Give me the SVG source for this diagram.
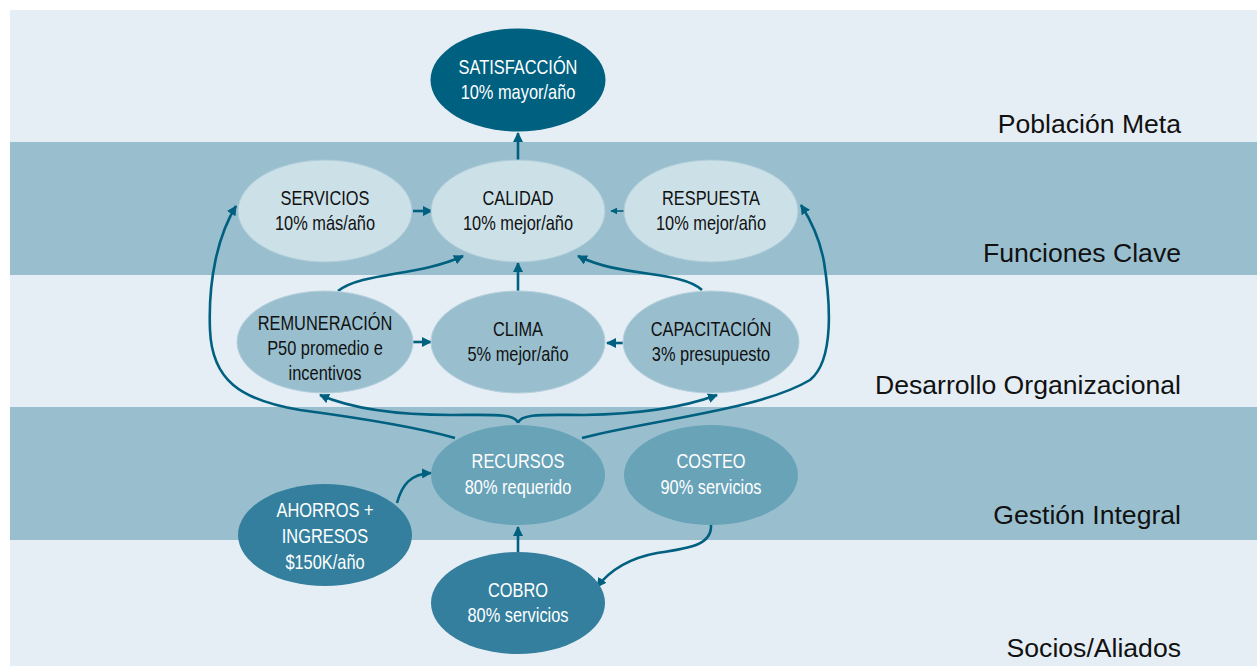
<svg xmlns="http://www.w3.org/2000/svg" width="1257" height="666" viewBox="0 0 1257 666">
<style>
.band-l{fill:#E6EEF5}
.band-m{fill:#99BFCF}
.lbl{font-family:"Liberation Sans",Arial,sans-serif;font-size:26.6px;fill:#111;text-anchor:end}
.nt{font-family:"Liberation Sans",Arial,sans-serif;font-size:20px;text-anchor:middle}
.dk{fill:#fff}
.bk{fill:#111}
.c{fill:none;stroke:#00607F;stroke-width:2.6}
.ct{fill:none;stroke:#00607F;stroke-width:1.6}
</style>
<defs>
<marker id="ah" viewBox="0 0 10 10" refX="9" refY="5" markerWidth="10" markerHeight="10" markerUnits="userSpaceOnUse" orient="auto">
<path d="M0,0 L10,5 L0,10 Z" fill="#00607F"/>
</marker>
<marker id="ahs" viewBox="0 0 10 10" refX="9" refY="5" markerWidth="7" markerHeight="7" markerUnits="userSpaceOnUse" orient="auto">
<path d="M0,0 L10,5 L0,10 Z" fill="#00607F"/>
</marker>
</defs>
<rect x="0" y="0" width="1257" height="666" fill="#fff"/>
<g id="bands">
<rect class="band-l" x="10" y="10" width="1247" height="132"/>
<rect class="band-m" x="10" y="142" width="1247" height="133"/>
<rect class="band-l" x="10" y="275" width="1247" height="132"/>
<rect class="band-m" x="10" y="407" width="1247" height="133"/>
<rect class="band-l" x="10" y="540" width="1247" height="126"/>
<text class="lbl" x="1181" y="133">Población Meta</text>
<text class="lbl" x="1181" y="262">Funciones Clave</text>
<text class="lbl" x="1181" y="394">Desarrollo Organizacional</text>
<text class="lbl" x="1181" y="524">Gestión Integral</text>
<text class="lbl" x="1181" y="657">Socios/Aliados</text>
</g>
<g id="connectors">
<path class="c" d="M518,160 L518,133" marker-end="url(#ah)"/>
<path class="c" d="M413,211 L432,211" marker-end="url(#ah)"/>
<path class="ct" d="M624,211 L611,211" marker-end="url(#ahs)"/>
<path class="c" d="M338,291 C362,272 420,276 463,256" marker-end="url(#ah)"/>
<path class="c" d="M518,291 L518,263" marker-end="url(#ah)"/>
<path class="c" d="M702,290 C680,270 622,278 578,256" marker-end="url(#ah)"/>
<path class="c" d="M413,342 L431,342" marker-end="url(#ah)"/>
<path class="c" d="M623,343 L607,343" marker-end="url(#ah)"/>
<path class="c" d="M518,423 C515,413 492,415 452,415 C392,415 350,408 320,395" marker-end="url(#ah)"/>
<path class="c" d="M518,423 C521,413 544,415 584,415 C648,414 690,405 717,395" marker-end="url(#ah)"/>
<path class="c" d="M455,438 C420,428 360,418 300,410 C240,400 212,380 210,330 C208,280 218,235 236,206" marker-end="url(#ah)"/>
<path class="c" d="M582,438 C650,420 760,410 810,380 C835,360 830,300 824,262 C820,240 812,222 801,205" marker-end="url(#ah)"/>
<path class="c" d="M397,503 C402,485 410,474 431,473" marker-end="url(#ah)"/>
<path class="c" d="M518,552 L518,527" marker-end="url(#ah)"/>
<path class="c" d="M711,525 C712,545 690,548 657,553 C630,558 610,570 597,587" marker-end="url(#ah)"/>
</g>
<g id="satisfaccion">
<ellipse cx="518" cy="80" rx="87.5" ry="51.5" fill="#00607F"/>
<g transform="translate(518,0) scale(0.82,1)">
<text class="nt dk" x="0" y="74">SATISFACCIÓN</text>
<text class="nt dk" x="0" y="99">10% mayor/año</text>
</g>
</g>
<g id="servicios">
<ellipse cx="325" cy="211" rx="87" ry="51" fill="#CCE0E8" stroke="#AECBD8" stroke-width="1"/>
<g transform="translate(325,0) scale(0.82,1)">
<text class="nt bk" x="0" y="205">SERVICIOS</text>
<text class="nt bk" x="0" y="230">10% más/año</text>
</g>
</g>
<g id="calidad">
<ellipse cx="518" cy="211" rx="87" ry="51" fill="#CCE0E8" stroke="#AECBD8" stroke-width="1"/>
<g transform="translate(518,0) scale(0.82,1)">
<text class="nt bk" x="0" y="205">CALIDAD</text>
<text class="nt bk" x="0" y="230">10% mejor/año</text>
</g>
</g>
<g id="respuesta">
<ellipse cx="711" cy="211" rx="87" ry="51" fill="#CCE0E8" stroke="#AECBD8" stroke-width="1"/>
<g transform="translate(711,0) scale(0.82,1)">
<text class="nt bk" x="0" y="205">RESPUESTA</text>
<text class="nt bk" x="0" y="230">10% mejor/año</text>
</g>
</g>
<g id="remuneracion">
<ellipse cx="325" cy="342" rx="88" ry="51" fill="#99BFCF" stroke="#B5D0DC" stroke-width="1"/>
<g transform="translate(325,0) scale(0.82,1)">
<text class="nt bk" x="0" y="330">REMUNERACIÓN</text>
<text class="nt bk" x="0" y="355">P50 promedio e</text>
<text class="nt bk" x="0" y="380">incentivos</text>
</g>
</g>
<g id="clima">
<ellipse cx="518" cy="342" rx="87" ry="51" fill="#99BFCF" stroke="#B5D0DC" stroke-width="1"/>
<g transform="translate(518,0) scale(0.82,1)">
<text class="nt bk" x="0" y="336">CLIMA</text>
<text class="nt bk" x="0" y="361">5% mejor/año</text>
</g>
</g>
<g id="capacitacion">
<ellipse cx="711" cy="342" rx="88" ry="51" fill="#99BFCF" stroke="#B5D0DC" stroke-width="1"/>
<g transform="translate(711,0) scale(0.82,1)">
<text class="nt bk" x="0" y="336">CAPACITACIÓN</text>
<text class="nt bk" x="0" y="361">3% presupuesto</text>
</g>
</g>
<g id="recursos">
<ellipse cx="518" cy="475" rx="87" ry="50" fill="#68A3B8"/>
<g transform="translate(518,0) scale(0.82,1)">
<text class="nt dk" x="0" y="468">RECURSOS</text>
<text class="nt dk" x="0" y="494">80% requerido</text>
</g>
</g>
<g id="costeo">
<ellipse cx="711" cy="475" rx="87" ry="50" fill="#68A3B8"/>
<g transform="translate(711,0) scale(0.82,1)">
<text class="nt dk" x="0" y="468">COSTEO</text>
<text class="nt dk" x="0" y="494">90% servicios</text>
</g>
</g>
<g id="ahorros">
<ellipse cx="325" cy="535" rx="87" ry="51" fill="#347F9E"/>
<g transform="translate(325,0) scale(0.82,1)">
<text class="nt dk" x="0" y="517">AHORROS +</text>
<text class="nt dk" x="0" y="543">INGRESOS</text>
<text class="nt dk" x="0" y="569">$150K/año</text>
</g>
</g>
<g id="cobro">
<ellipse cx="518" cy="603" rx="87" ry="51" fill="#347F9E"/>
<g transform="translate(518,0) scale(0.82,1)">
<text class="nt dk" x="0" y="597">COBRO</text>
<text class="nt dk" x="0" y="622">80% servicios</text>
</g>
</g>
</svg>
